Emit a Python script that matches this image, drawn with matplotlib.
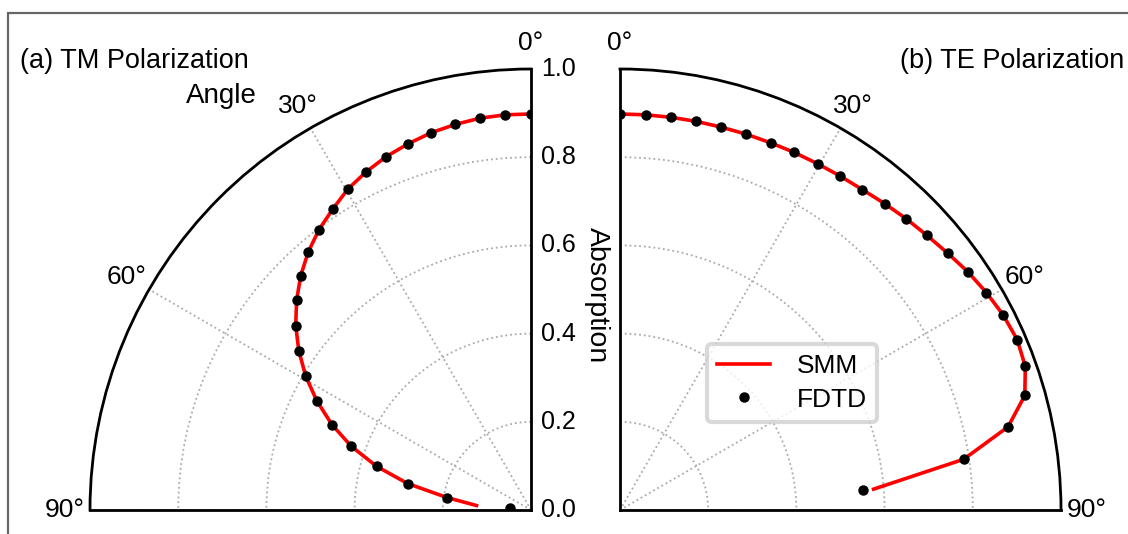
import numpy as np
import matplotlib
matplotlib.use("Agg")
import matplotlib.pyplot as plt
from matplotlib.patches import Rectangle

plt.rcParams['font.family'] = ['Liberation Sans', 'DejaVu Sans']

# incidence angles (deg)
angles = [0.0, 3.7, 7.4, 11.1, 14.8, 18.5, 22.3, 26.0, 29.7, 33.4, 37.1, 40.8,
          44.5, 48.2, 51.9, 55.6, 59.3, 63.0, 66.8, 70.5, 74.2, 77.9, 81.6, 85.3]

# TM polarization absorption
tm_fdtd = [0.898, 0.898, 0.896, 0.891, 0.885, 0.876, 0.866, 0.853, 0.838, 0.817, 0.797, 0.773,
           0.745, 0.713, 0.678, 0.638, 0.594, 0.545, 0.491, 0.432, 0.364, 0.286, 0.192, 0.048]
tm_smm = [0.898, 0.898, 0.896, 0.891, 0.885, 0.876, 0.866, 0.853, 0.838, 0.817, 0.797, 0.773,
          0.745, 0.713, 0.678, 0.638, 0.594, 0.545, 0.491, 0.432, 0.364, 0.286, 0.192, 0.124]

# TE polarization absorption
te_fdtd = [0.898, 0.898, 0.898, 0.898, 0.898, 0.899, 0.900, 0.902, 0.904, 0.907, 0.911, 0.918,
           0.926, 0.934, 0.944, 0.956, 0.966, 0.975, 0.980, 0.975, 0.954, 0.900, 0.788, 0.552]
te_smm = [0.898, 0.898, 0.898, 0.898, 0.898, 0.899, 0.900, 0.902, 0.904, 0.907, 0.911, 0.918,
          0.926, 0.934, 0.944, 0.956, 0.966, 0.975, 0.980, 0.975, 0.954, 0.900, 0.788, 0.577]

rticks = [0.0, 0.2, 0.4, 0.6, 0.8, 1.0]
rticklabels = ['0.0', '0.2', '0.4', '0.6', '0.8', '1.0']
thetaticks = [0, 30, 60, 90]

W, H = 1128, 534
fig = plt.figure(figsize=(W / 100, H / 100), dpi=100)


def px(x0, y0, x1, y1):
    # pixel box (top-left origin) -> figure fraction rect
    return [x0 / W, 1 - y1 / H, (x1 - x0) / W, (y1 - y0) / H]


def setup(ax, direction):
    ax.set_theta_zero_location('N')
    ax.set_theta_direction(direction)
    ax.set_thetamin(0)
    ax.set_thetamax(90)
    ax.set_ylim(0, 1.0)
    ax.set_thetagrids(thetaticks, labels=[f'{t}°' for t in thetaticks])
    ax.set_rticks(rticks)
    ax.grid(True, color='#aaaaaa', linestyle=':', linewidth=1.3)
    for sp in ax.spines.values():
        sp.set_linewidth(2)
        sp.set_color('black')
    ax.tick_params(axis='x', pad=8, labelsize=19)


ax1 = fig.add_axes(px(90, 69, 531, 510), projection='polar')
setup(ax1, 1)
ax1.set_rlabel_position(0)
ax1.set_yticklabels(rticklabels)
ax1.tick_params(axis='y', labelsize=18)
ax1.plot(np.radians(angles), tm_smm, color='red', lw=2.6, zorder=3)
ax1.plot(np.radians(angles), tm_fdtd, 'o', color='black', ms=6.5, zorder=4)

ax2 = fig.add_axes(px(620, 69, 1061, 510), projection='polar')
setup(ax2, -1)
ax2.set_yticklabels([])
l1, = ax2.plot(np.radians(angles), te_smm, color='red', lw=2.6, zorder=3, label='SMM')
l2, = ax2.plot(np.radians(angles), te_fdtd, 'o', color='black', ms=6.5, zorder=4, label='FDTD')

leg = fig.legend(handles=[l1, l2], loc='center', bbox_to_anchor=(792 / W, 1 - 383 / H),
                 fontsize=19, frameon=True, fancybox=True, framealpha=0.8,
                 edgecolor='#d0d0d0', handlelength=2.0, borderpad=0.4, labelspacing=0.35,
                 handletextpad=1.0)
leg.get_frame().set_linewidth(3)

fig.text(20 / W, 1 - 68 / H, '(a) TM Polarization', fontsize=19.5, ha='left', va='baseline')
fig.text(1124 / W, 1 - 68 / H, '(b) TE Polarization', fontsize=19.5, ha='right', va='baseline')
fig.text(257 / W, 1 - 103 / H, 'Angle', fontsize=20, ha='right', va='baseline')
fig.text(597 / W, 1 - 295 / H, 'Absorption', fontsize=20.5, ha='center', va='center', rotation=-90)

# outer frame
fig.patches.append(Rectangle((8 / W, -0.1), 1.2, 1 - 13 / H + 0.1, transform=fig.transFigure,
                             fill=False, edgecolor='#666666', linewidth=1.6))

fig.savefig('out.png', dpi=100)
